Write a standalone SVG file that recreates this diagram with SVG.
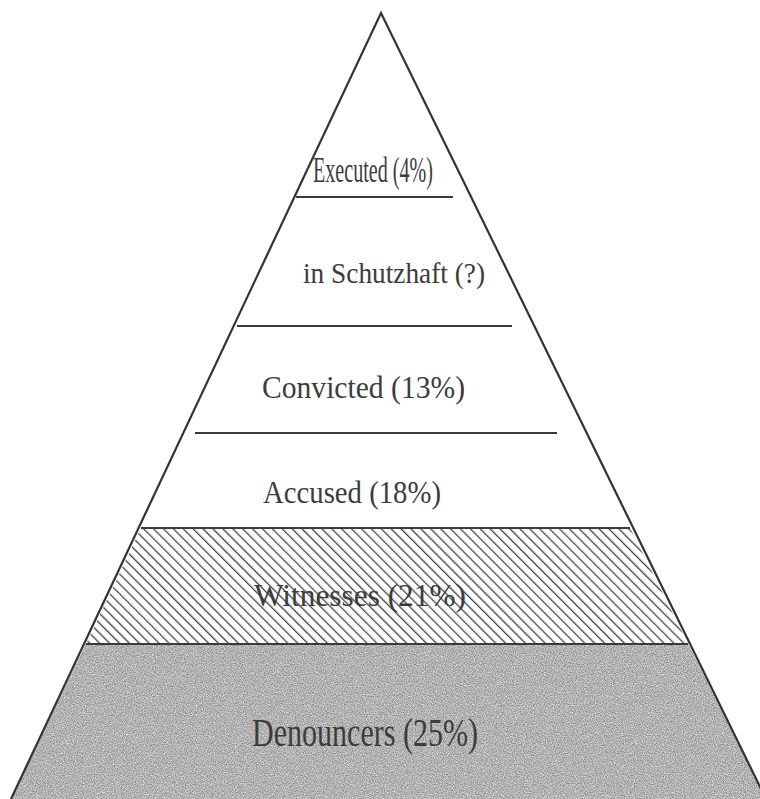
<svg xmlns="http://www.w3.org/2000/svg" width="760" height="799" viewBox="0 0 760 799">
  <style>
    .edge { fill: none; stroke: #333; stroke-width: 2.2; stroke-linejoin: miter; }
    .div { stroke: #3a3a3a; stroke-width: 1.8; }
    .lbl { font-family: "Liberation Serif", "Times New Roman", serif; fill: #3c3c3c; }
  </style>
  <defs>
    <pattern id="hatch" width="7" height="7" patternUnits="userSpaceOnUse" patternTransform="rotate(-45)">
      <rect width="7" height="7" fill="#ffffff"/>
      <line x1="0" y1="0" x2="0" y2="7" stroke="#444" stroke-width="2.6"/>
    </pattern>
    <filter id="grain" x="0" y="0" width="1" height="1" filterUnits="objectBoundingBox" color-interpolation-filters="sRGB">
      <feTurbulence type="fractalNoise" baseFrequency="0.9" numOctaves="2" seed="7" result="n"/>
      <feColorMatrix in="n" type="matrix" values="0.6 0 0 0 0.4  0.6 0 0 0 0.4  0.6 0 0 0 0.4  0 0 0 0 1" result="g"/>
      <feComposite in="g" in2="SourceGraphic" operator="in"/>
    </filter>
  </defs>

  <rect width="760" height="799" fill="#ffffff"/>

  <g id="denouncers">
    <polygon points="86,644 688,644 766,799 11,799" fill="#b0b0b0"/>
    <polygon points="86,644 688,644 766,799 11,799" fill="#b0b0b0" filter="url(#grain)"/>
    <text class="lbl" x="252" y="746" font-size="39" textLength="226" lengthAdjust="spacingAndGlyphs" fill="#333">Denouncers (25%)</text>
  </g>

  <g id="witnesses">
    <polygon points="141,528 630,528 688,644 86,644" fill="url(#hatch)"/>
    <text class="lbl" x="254" y="606" font-size="31" textLength="212" lengthAdjust="spacingAndGlyphs" fill="#555">Witnesses (21%)</text>
  </g>

  <g id="accused">
    <text class="lbl" x="263" y="503" font-size="32" textLength="178" lengthAdjust="spacingAndGlyphs">Accused (18%)</text>
  </g>

  <g id="convicted">
    <text class="lbl" x="262" y="398" font-size="32" textLength="203" lengthAdjust="spacingAndGlyphs">Convicted (13%)</text>
  </g>

  <g id="schutzhaft">
    <text class="lbl" x="303" y="283" font-size="29" textLength="182" lengthAdjust="spacingAndGlyphs">in Schutzhaft (?)</text>
  </g>

  <g id="executed">
    <text class="lbl" x="313" y="182" font-size="35" textLength="120" lengthAdjust="spacingAndGlyphs">Executed (4%)</text>
  </g>

  <g id="connectors">
    <line class="div" x1="296" y1="197" x2="453" y2="197"/>
    <line class="div" x1="237" y1="326" x2="512" y2="326" stroke-width="2.6"/>
    <line class="div" x1="195" y1="433" x2="557" y2="433"/>
    <line class="div" x1="141" y1="528" x2="630" y2="528" stroke-width="2.2"/>
    <line class="div" x1="86" y1="644" x2="688" y2="644" stroke-width="2.2"/>
    <polyline class="edge" points="11,799 381,13 766,799"/>
  </g>
</svg>
